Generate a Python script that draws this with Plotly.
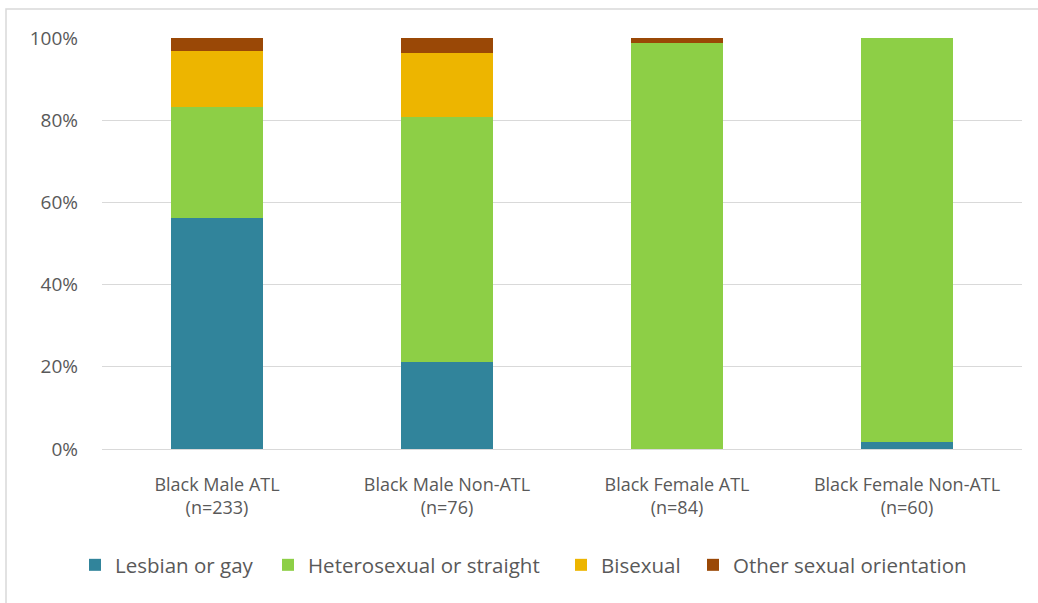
import plotly.graph_objects as go

categories = ["Black Male ATL<br>(n=233)", "Black Male Non-ATL<br>(n=76)",
              "Black Female ATL<br>(n=84)", "Black Female Non-ATL<br>(n=60)"]
lesbian_gay = [0.562, 0.211, 0.0, 0.017]
heterosexual = [0.270, 0.597, 0.988, 0.983]
bisexual = [0.137, 0.156, 0.0, 0.0]
other = [0.031, 0.036, 0.012, 0.0]

series = [
    ("Lesbian or gay", lesbian_gay, "#31849B"),
    ("Heterosexual or straight", heterosexual, "#8DCF46"),
    ("Bisexual", bisexual, "#EDB500"),
    ("Other sexual orientation", other, "#9A4806"),
]

FONT = "Open Sans"
GREY = "#595959"

W0, T0, PW, PH = 102, 38, 920, 411
legend_text_x = [115, 308, 601, 733]   # pixel x of legend text start
legend_names = ["legend", "legend2", "legend3", "legend4"]

fig = go.Figure()
for (name, vals, col), lg in zip(series, legend_names):
    fig.add_trace(go.Bar(name=name, x=categories, y=vals, marker=dict(color=col, line=dict(width=0)),
                         width=0.4, hoverinfo="skip", legend=lg))

legend_common = dict(orientation="h", yanchor="middle", y=-(565 - (T0 + PH)) / PH,
                     xanchor="left", font=dict(family=FONT, size=20.5, color=GREY),
                     bgcolor="rgba(0,0,0,0)", borderwidth=0, itemwidth=30)
layout_legends = {}
for lg, tx in zip(legend_names, legend_text_x):
    layout_legends[lg] = dict(legend_common, x=(tx - 40 - W0) / PW)

fig.update_layout(
    barmode="stack",
    width=1038, height=603,
    margin=dict(l=W0, r=1038 - W0 - PW, t=T0, b=603 - T0 - PH, autoexpand=False),
    paper_bgcolor="white", plot_bgcolor="white",
    font=dict(family=FONT, size=18, color=GREY),
    showlegend=True,
    xaxis=dict(showgrid=False, showline=False, ticks="", ticklabelstandoff=23,
               tickfont=dict(family=FONT, size=18, color=GREY), fixedrange=True),
    yaxis=dict(range=[0, 1], tickvals=[0, 0.2, 0.4, 0.6, 0.8, 1.0], tickformat=".0%",
               showgrid=True, gridcolor="#D9D9D9", gridwidth=1, zeroline=True,
               zerolinecolor="#D9D9D9", zerolinewidth=1, showline=False, ticks="",
               ticklabelstandoff=23, tickfont=dict(family=FONT, size=19, color=GREY)),
    shapes=[dict(type="rect", xref="paper", yref="paper",
                 x0=(6 - W0) / PW, x1=1.3, y0=-0.6, y1=(T0 + PH - 9) / PH,
                 line=dict(color="#D9D9D9", width=1.5), fillcolor="rgba(0,0,0,0)", layer="below")],
    **layout_legends,
)

fig.write_html("out.html", config={"displayModeBar": False},
               post_script="document.body.style.margin='0';")
